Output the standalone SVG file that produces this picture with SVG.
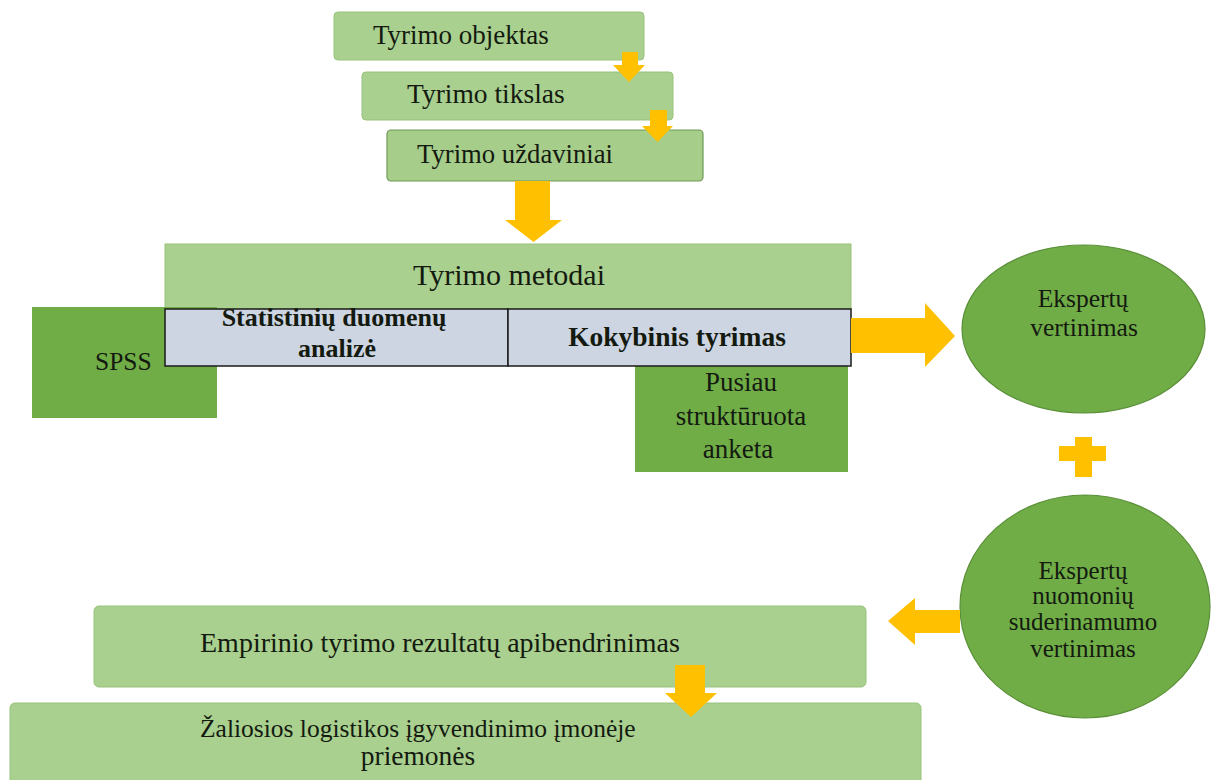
<svg xmlns="http://www.w3.org/2000/svg" width="1216" height="780" viewBox="0 0 1216 780" font-family="'Liberation Serif', 'DejaVu Serif', serif">
  <style>
    .lg { fill: #a9d08e; stroke: #98c27c; stroke-width: 1; }
    .dg { fill: #70ad47; }
    .el { fill: #70ad47; stroke: #5a8f38; stroke-width: 1.2; }
    .cell { fill: #cdd5e2; stroke: #1a1a1a; stroke-width: 1.5; }
    .arr { fill: #ffc000; }
    text { font-family: 'Liberation Serif', 'DejaVu Serif', serif; fill: #141a10; }
    .b { font-weight: bold; }
    .m { text-anchor: middle; }
  </style>
  <rect width="1216" height="780" fill="#ffffff"/>

  <g id="objektas">
    <rect class="lg" x="334" y="12" width="310" height="48" rx="4"/>
    <text x="373" y="44" font-size="27">Tyrimo objektas</text>
  </g>
  <g id="tikslas">
    <rect class="lg" x="362" y="72" width="311" height="48" rx="4"/>
    <text x="407" y="103" font-size="27.5">Tyrimo tikslas</text>
  </g>
  <g id="uzdaviniai">
    <rect x="387" y="130" width="316" height="51" rx="4" fill="#a6cd8a" stroke="#6f9a55" stroke-width="1.2"/>
    <text x="417" y="163" font-size="26.7">Tyrimo uždaviniai</text>
  </g>

  <g id="metodai">
    <rect x="165" y="244" width="686" height="65" fill="#a9d08e" stroke="#98c27c" stroke-width="1"/>
    <text x="509" y="285" font-size="30" class="m">Tyrimo metodai</text>
  </g>

  <g id="spss">
    <rect class="dg" x="32" y="307" width="185" height="111"/>
    <text x="95" y="370" font-size="25.5">SPSS</text>
  </g>

  <g id="pusiau">
    <rect class="dg" x="635" y="366" width="213" height="106"/>
    <text x="741" y="391" font-size="27" class="m">Pusiau</text>
    <text x="741" y="425" font-size="27" class="m">struktūruota</text>
    <text x="738" y="458" font-size="27" class="m">anketa</text>
  </g>

  <g id="statistiniu">
    <rect class="cell" x="165" y="309" width="343" height="57"/>
    <text x="334" y="326" font-size="26" class="m b">Statistinių duomenų</text>
    <text x="337" y="357" font-size="26" class="m b">analizė</text>
  </g>
  <g id="kokybinis">
    <rect class="cell" x="508" y="309" width="343" height="57"/>
    <text x="677" y="346" font-size="27.5" class="m b">Kokybinis tyrimas</text>
  </g>

  <g id="ekspertu-vertinimas">
    <ellipse class="el" cx="1083.5" cy="329" rx="121.5" ry="84"/>
    <text x="1083" y="307" font-size="25.5" class="m">Ekspertų</text>
    <text x="1084" y="336" font-size="25.5" class="m">vertinimas</text>
  </g>

  <g id="ekspertu-suderinamumas">
    <ellipse class="el" cx="1085" cy="606.5" rx="125" ry="111.5"/>
    <text x="1083" y="579" font-size="25" class="m">Ekspertų</text>
    <text x="1083" y="604" font-size="25" class="m">nuomonių</text>
    <text x="1083" y="630" font-size="25" class="m">suderinamumo</text>
    <text x="1083" y="657" font-size="25" class="m">vertinimas</text>
  </g>

  <g id="empirinio">
    <rect class="lg" x="94" y="606" width="772" height="81" rx="5"/>
    <text x="200" y="652" font-size="28">Empirinio tyrimo rezultatų apibendrinimas</text>
  </g>

  <g id="zaliosios">
    <rect class="lg" x="10" y="703" width="911" height="82" rx="5"/>
    <text x="200" y="737" font-size="25.5">Žaliosios logistikos įgyvendinimo įmonėje</text>
    <text x="418" y="765" font-size="27.5" class="m">priemonės</text>
  </g>

  <g id="connectors">
    <polygon class="arr" points="622,52 638,52 638,65 645,65 629,82 613,65 622,65"/>
    <polygon class="arr" points="650,110 667,110 667,126 673,126 657.5,142 642,126 650,126"/>
    <polygon class="arr" points="515,181 550,181 550,220 562,220 533.5,242 505,220 515,220"/>
    <polygon class="arr" points="851,318 925,318 925,303 955,336 925,367 925,353 851,353"/>
    <polygon class="arr" points="1075,437 1092,437 1092,446 1106,446 1106,461 1092,461 1092,477 1075,477 1075,461 1059,461 1059,446 1075,446"/>
    <polygon class="arr" points="960,610 915,610 915,598 888,621 915,645 915,633 960,633"/>
    <polygon class="arr" points="675,665 705,665 705,693 717,693 691,717 665,693 675,693"/>
  </g>
</svg>
